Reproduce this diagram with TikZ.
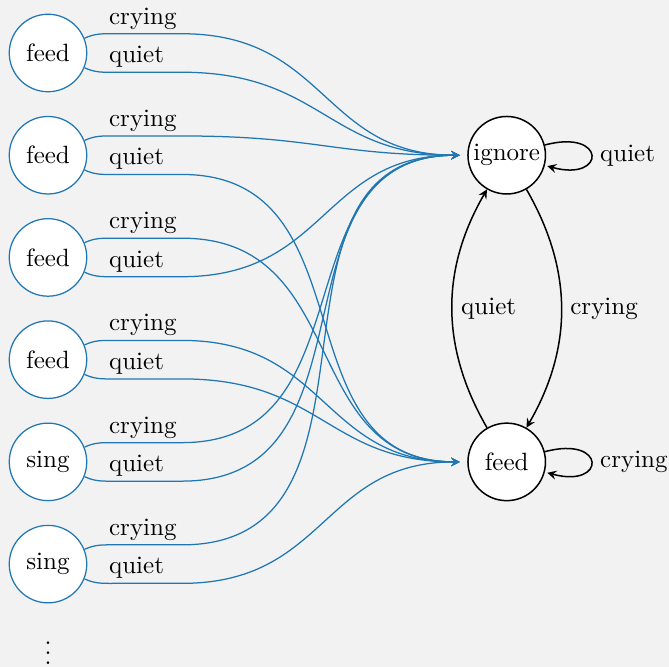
\documentclass[tikz,border=0pt]{standalone}
\usepackage{xcolor}
\usepackage{tikz}
\usetikzlibrary{automata, positioning}

\definecolor{polblue}{RGB}{31,119,180}
\definecolor{bggray}{RGB}{242,242,242}

\tikzset{
  every state/.style={minimum size=31pt, inner sep=1pt, fill=white},
  pstate/.style={state, draw=polblue, line width=0.5pt},
  pol/.style={->, draw=polblue, line width=0.5pt, shorten >=3pt},
  lab/.style={pos=0, anchor=base west, inner sep=0pt, xshift=-2.4pt, yshift=3.8pt}
}

\begin{document}
\begin{tikzpicture}[>=stealth]

        \fill[bggray] (-19.2pt,21.2pt) rectangle (248.4pt,-245.6pt);
        \useasboundingbox (-19.2pt,21.2pt) rectangle (248.4pt,-245.6pt);

        \node[pstate] (l1) {feed};
        \node[pstate] (l2) [below=0.33cm of l1] {feed};
        \node[pstate] (l3) [below=0.33cm of l2] {feed};
        \node[pstate] (l4) [below=0.33cm of l3] {feed};
        \node[pstate] (l5) [below=0.33cm of l4] {sing};
        \node[pstate] (l6) [below=0.33cm of l5] {sing};
        \node (dots) [below=0.2cm of l6] {$\vdots$};

        \node[state, semithick] (ignore) [right=5.34cm of l2] {ignore};
        \node[state, semithick] (feed) [right=5.34cm of l5] {feed};

        % policies: crying leaves above, quiet below
        \draw[pol] (l1.22) to[out=25,in=180] ++(12pt,1.8pt) -- node[lab] {crying} ++(27pt,0) to[out=0,in=180,looseness=1.2] (ignore);
        \draw[pol] (l1.-22) to[out=-25,in=180] ++(12pt,-1.8pt) -- node[lab] {quiet} ++(27pt,0) to[out=0,in=180,looseness=1.2] (ignore);

        \draw[pol] (l2.22) to[out=25,in=180] ++(12pt,1.8pt) -- node[lab] {crying} ++(27pt,0) to[out=0,in=180,looseness=1.2] (ignore);
        \draw[pol] (l2.-22) to[out=-25,in=180] ++(12pt,-1.8pt) -- node[lab] {quiet} ++(27pt,0) to[out=0,in=180,looseness=1.2] (feed);

        \draw[pol] (l3.22) to[out=25,in=180] ++(12pt,1.8pt) -- node[lab] {crying} ++(27pt,0) to[out=0,in=180,looseness=1.2] (feed);
        \draw[pol] (l3.-22) to[out=-25,in=180] ++(12pt,-1.8pt) -- node[lab] {quiet} ++(27pt,0) to[out=0,in=180,looseness=1.2] (ignore);

        \draw[pol] (l4.22) to[out=25,in=180] ++(12pt,1.8pt) -- node[lab] {crying} ++(27pt,0) to[out=0,in=180,looseness=1.2] (feed);
        \draw[pol] (l4.-22) to[out=-25,in=180] ++(12pt,-1.8pt) -- node[lab] {quiet} ++(27pt,0) to[out=0,in=180,looseness=1.2] (feed);

        \draw[pol] (l5.22) to[out=25,in=180] ++(12pt,1.8pt) -- node[lab] {crying} ++(27pt,0) to[out=0,in=180,looseness=1.2] (ignore);
        \draw[pol] (l5.-22) to[out=-25,in=180] ++(12pt,-1.8pt) -- node[lab] {quiet} ++(27pt,0) to[out=0,in=180,looseness=1.2] (ignore);

        \draw[pol] (l6.22) to[out=25,in=180] ++(12pt,1.8pt) -- node[lab] {crying} ++(27pt,0) to[out=0,in=180,looseness=1.2] (ignore);
        \draw[pol] (l6.-22) to[out=-25,in=180] ++(12pt,-1.8pt) -- node[lab] {quiet} ++(27pt,0) to[out=0,in=180,looseness=1.2] (feed);

        \path[->, semithick]
        (ignore) edge[bend left=30] node[right] {crying} (feed)
        (feed) edge[bend left=30] node[right] {quiet} (ignore)
        (ignore) edge[loop right] node {quiet} ()
        (feed) edge[loop right] node {crying} ();

    \end{tikzpicture}
\end{document}
